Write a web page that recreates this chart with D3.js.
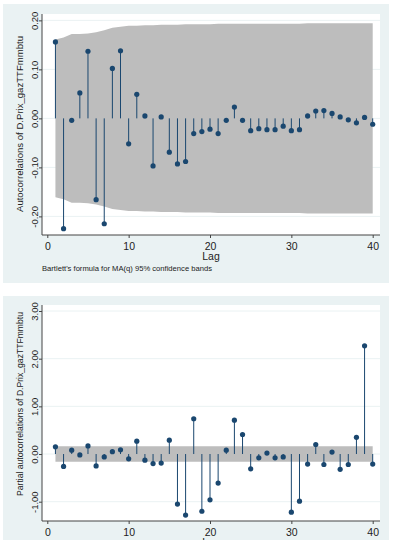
<!DOCTYPE html>
<html><head><meta charset="utf-8">
<script src="https://cdn.jsdelivr.net/npm/d3@7"></script>
<style>
html,body{margin:0;padding:0;background:#fff;}
svg{display:block;font-family:"Liberation Sans",Arial,sans-serif;}
</style></head>
<body><svg id="c" width="395" height="540"></svg>
<script>
// ---- data ----
const lags = d3.range(1, 41);
const acfValues = [0.156,-0.225,-0.004,0.052,0.137,-0.166,-0.215,0.102,0.138,-0.052,
  0.049,0.005,-0.097,0.003,-0.069,-0.093,-0.088,-0.031,-0.027,-0.022,
  -0.031,-0.004,0.023,-0.004,-0.025,-0.021,-0.023,-0.023,-0.016,-0.025,
  -0.023,0.005,0.015,0.016,0.010,0.003,-0.003,-0.009,0.002,-0.012];
const acfBand = [0.161,0.165,0.172,0.172,0.173,0.176,0.180,0.185,0.187,0.189,
  0.189,0.190,0.190,0.191,0.191,0.191,0.192,0.192,0.192,0.192,
  0.193,0.193,0.193,0.193,0.193,0.193,0.193,0.193,0.193,0.193,
  0.193,0.194,0.194,0.194,0.194,0.194,0.194,0.194,0.194,0.194];
const pacfValues = [0.15,-0.26,0.08,-0.02,0.17,-0.25,-0.06,0.05,0.09,-0.10,
  0.27,-0.13,-0.20,-0.19,0.29,-1.05,-1.28,0.74,-1.20,-0.96,
  -0.61,0.08,0.71,0.41,-0.31,-0.08,0.02,-0.08,-0.06,-1.22,
  -0.99,-0.21,0.20,-0.22,0.04,-0.32,-0.22,0.35,2.27,-0.21];
const pacfBand = lags.map(() => 0.161);
const xTicks = [0,10,20,30,40];
const acfYTicks = [-0.2,-0.1,0,0.1,0.2];
const acfYLabels = ["-0.20","-0.10","0.00","0.10","0.20"];
const pacfYTicks = [-1,0,1,2,3];
const pacfYLabels = ["-1.00","0.00","1.00","2.00","3.00"];

const svg = d3.select("#c");
const NAVY = "#1a476f", BG = "#eaf2f3", BAND = "#bdbdbd";

function panel(o){
  svg.append("rect").attr("x",o.px).attr("y",o.py).attr("width",o.pw).attr("height",o.ph).attr("fill",BG);
  svg.append("rect").attr("x",o.l).attr("y",o.t).attr("width",o.r-o.l).attr("height",o.b-o.t).attr("fill","#fff");
  const x = d3.scaleLinear().domain([0,40]).range([47.3,372.7]);
  const y = d3.scaleLinear().domain(o.ydom).range([o.b,o.t]);
  const g = svg.append("g");
  // gridlines
  g.selectAll(".grid").data(o.yTicks).enter().append("line")
    .attr("x1",o.l).attr("x2",o.r).attr("y1",d=>y(d)).attr("y2",d=>y(d))
    .attr("stroke",BG).attr("stroke-width",1);
  // band
  const area = d3.area().x((d,i)=>x(lags[i])).y0((d)=>y(-d)).y1(d=>y(d));
  g.append("path").datum(o.band).attr("d",area).attr("fill",BAND);
  // stems
  g.selectAll(".stem").data(o.values).enter().append("line")
    .attr("x1",(d,i)=>x(lags[i])).attr("x2",(d,i)=>x(lags[i]))
    .attr("y1",y(0)).attr("y2",d=>y(d)).attr("stroke",NAVY).attr("stroke-width",1);
  g.selectAll(".pt").data(o.values).enter().append("circle")
    .attr("cx",(d,i)=>x(lags[i])).attr("cy",d=>y(d)).attr("r",2.6).attr("fill",NAVY);
  // axes
  const ya = svg.append("g").attr("transform",`translate(${o.l},0)`)
    .call(d3.axisLeft(y).tickValues(o.yTicks).tickSize(3).tickFormat((d,i)=>o.yLabels[i]));
  ya.select(".domain").attr("d",`M0,${o.t}V${o.b}`).attr("stroke","#444");
  ya.selectAll(".tick line").attr("stroke","#444");
  ya.selectAll(".tick text").attr("x",null).attr("dy",null)
    .attr("transform","translate(-4.5,0) rotate(-90)").attr("text-anchor","middle")
    .attr("font-size",9.5).attr("fill","#222").attr("font-family","Liberation Sans, Arial, sans-serif");
  const xa = svg.append("g").attr("transform",`translate(0,${o.b})`)
    .call(d3.axisBottom(x).tickValues(xTicks).tickSize(3).tickFormat(d3.format("d")));
  xa.select(".domain").attr("d",`M${o.l},0H${o.r}`).attr("stroke","#444");
  xa.selectAll(".tick line").attr("stroke","#444");
  xa.selectAll(".tick text").attr("y",null).attr("dy",null).attr("transform","translate(0,15)")
    .attr("font-size",10.5).attr("fill","#222").attr("font-family","Liberation Sans, Arial, sans-serif");
  // titles
  svg.append("text").attr("transform",`translate(${o.ytx},${o.ytc}) rotate(-90)`)
    .attr("text-anchor","middle").attr("font-size",o.ytfs).attr("fill","#222")
    .attr("textLength",o.ytlen).attr("lengthAdjust","spacingAndGlyphs").text(o.ytitle);
  svg.append("text").attr("x",(o.l+o.r)/2).attr("y",o.b+25).attr("text-anchor","middle")
    .attr("font-size",10.5).attr("fill","#222").text("Lag");
}

panel({px:3,py:4,pw:386,ph:279,l:42,r:380,t:14,b:235,ydom:[-0.238,0.213],
  yTicks:acfYTicks,yLabels:acfYLabels,values:acfValues,band:acfBand,
  ytitle:"Autocorrelations of D.Prix_gazTTFmmbtu",ytx:23,ytc:124,ytfs:9.5,ytlen:176});
svg.append("text").attr("x",42).attr("y",271).attr("font-size",8).attr("fill","#222")
  .attr("textLength",170).attr("lengthAdjust","spacingAndGlyphs")
  .text("Bartlett's formula for MA(q) 95% confidence bands");

panel({px:3,py:296,pw:386,ph:260,l:42,r:380,t:305,b:521,ydom:[-1.405,3.126],
  yTicks:pacfYTicks,yLabels:pacfYLabels,values:pacfValues,band:pacfBand,
  ytitle:"Partial autocorrelations of D.Prix_gazTTFmmbtu",ytx:23,ytc:404,ytfs:9,ytlen:184});
</script></body></html>
